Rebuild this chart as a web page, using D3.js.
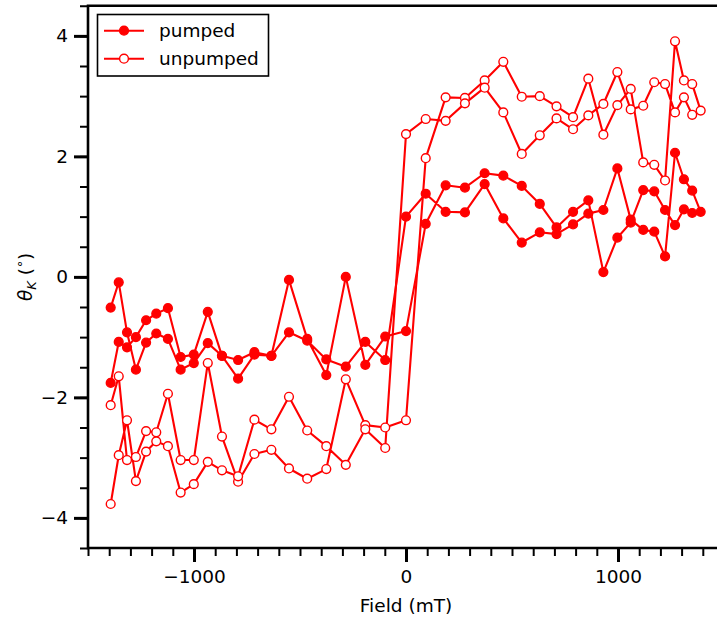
<!DOCTYPE html>
<html>
<head>
<meta charset="utf-8">
<script src="https://cdn.jsdelivr.net/npm/d3@7"></script>
<style>
  body { margin: 0; background: #fff; }
  svg { display: block; }
  .axis text { font-family: "DejaVu Sans", sans-serif; font-size: 18.5px; fill: #000; }
  .axis line { stroke: #000; }
  .axis path { display: none; }
</style>
</head>
<body>
<div class="demo"></div>
<script>
const w = 717, h = 618;
const padLeft = 88, padTop = 5.75, padBottom = 548;

// field steps of one sweep (mT)
const field = [-1393, -1355, -1316, -1274, -1226, -1178, -1123, -1063, -1001, -935,
  -868, -792, -715, -635, -552, -466, -376, -284, -192, -98,
  0, 93, 187, 278, 371, 459, 546, 631, 710, 788,
  860, 931, 997, 1060, 1119, 1171, 1222, 1269, 1311, 1350, 1390];

// Kerr rotation, sweep up (-H -> +H) and sweep down (+H -> -H), listed by field
const pumpedUp = [-1.76, -1.08, -1.17, -1.00, -0.72, -0.61, -0.52, -1.33, -1.29, -0.58,
  -1.31, -1.38, -1.25, -1.31, -0.05, -1.03, -1.63, 0.00, -1.46, -0.99,
  -0.90, 0.88, 1.52, 1.48, 1.72, 1.68, 1.51, 1.21, 0.82, 1.08,
  1.27, 0.08, 0.65, 0.90, 1.44, 1.42, 1.11, 0.86, 1.12, 1.06, 1.08];
const pumpedDown = [-0.51, -0.09, -0.92, -1.54, -1.09, -0.94, -1.03, -1.54, -1.43, -1.10,
  -1.31, -1.69, -1.29, -1.31, -0.92, -1.06, -1.37, -1.49, -1.08, -1.38,
  1.00, 1.38, 1.08, 1.07, 1.54, 0.97, 0.57, 0.74, 0.71, 0.87,
  1.05, 1.11, 1.80, 0.95, 0.78, 0.75, 0.34, 2.06, 1.62, 1.43, 1.08];
const unpumpedUp = [-2.13, -1.65, -3.04, -2.99, -2.56, -2.58, -1.94, -3.04, -3.04, -1.43,
  -2.65, -3.40, -2.94, -2.87, -3.18, -3.35, -3.19, -1.70, -2.46, -2.50,
  -2.38, 1.97, 2.98, 2.97, 3.26, 3.57, 2.99, 3.00, 2.83, 2.65,
  3.29, 2.36, 2.85, 3.12, 1.90, 1.86, 1.60, 3.91, 3.26, 3.20, 2.76];
const unpumpedDown = [-3.77, -2.96, -2.38, -3.39, -2.90, -2.73, -2.81, -3.58, -3.44, -3.07,
  -3.21, -3.31, -2.37, -2.53, -1.99, -2.55, -2.81, -3.12, -2.53, -2.84,
  2.37, 2.62, 2.59, 2.88, 3.14, 2.73, 2.04, 2.35, 2.63, 2.45,
  2.68, 2.87, 3.40, 2.78, 2.84, 3.23, 3.20, 2.73, 2.98, 2.69, 2.76];

const xMajor = [-1000, 0, 1000];
const yMajor = [-4, -2, 0, 2, 4];
const color = 'red';

// one loop: up the field, then back down
function loop(up, down) {
  let pts = field.map((f, i) => [f, up[i]]);
  for (let i = field.length - 2; i >= 0; i--) pts.push([field[i], down[i]]);
  return pts;
}
const series = [
  { name: 'pumped', pts: loop(pumpedUp, pumpedDown), fill: color },
  { name: 'unpumped', pts: loop(unpumpedUp, unpumpedDown), fill: 'white' }
];

let xScale = d3.scaleLinear().domain([-1500, 1500]).range([padLeft, padLeft + 3000 * 0.212]);
let yScale = d3.scaleLinear().domain([-4.5, 4.5]).range([padBottom, padTop]);

let svg = d3.select('.demo').append('svg').attr('width', w).attr('height', h);

let line = d3.line().x(d => xScale(d[0])).y(d => yScale(d[1]));

series.forEach(s => {
  svg.append('path').datum(s.pts)
     .attr('d', line)
     .attr('fill', 'none')
     .attr('stroke', color)
     .attr('stroke-width', 2.1)
     .attr('stroke-linejoin', 'round');
  svg.append('g').selectAll('circle').data(s.pts).enter()
     .append('circle')
     .attr('cx', d => xScale(d[0]))
     .attr('cy', d => yScale(d[1]))
     .attr('r', 4.4)
     .attr('fill', s.fill)
     .attr('stroke', color)
     .attr('stroke-width', 1.4);
});

// minor ticks
let xMinor = d3.axisBottom(xScale).tickValues(d3.range(-1500, 1450, 100)).tickSize(8).tickFormat('');
let yMinor = d3.axisLeft(yScale).tickValues(d3.range(-4.5, 4.6, 0.5)).tickSize(8).tickFormat('');
svg.append('g').attr('class', 'axis minor')
   .attr('transform', 'translate(0,' + padBottom + ')').call(xMinor);
svg.append('g').attr('class', 'axis minor')
   .attr('transform', 'translate(' + padLeft + ',0)').call(yMinor);
svg.selectAll('.minor line').attr('stroke-width', 2);

// major ticks
let xAxis = d3.axisBottom(xScale).tickValues(xMajor).tickSize(14).tickPadding(8).tickFormat(d3.format('d'));
let yAxis = d3.axisLeft(yScale).tickValues(yMajor).tickSize(14).tickPadding(6).tickFormat(d3.format('d'));
svg.append('g').attr('class', 'axis major')
   .attr('transform', 'translate(0,' + padBottom + ')').call(xAxis);
svg.append('g').attr('class', 'axis major')
   .attr('transform', 'translate(' + padLeft + ',0)').call(yAxis);
svg.selectAll('.major line').attr('stroke-width', 3);

// spines
svg.append('path')
   .attr('d', 'M' + w + ',' + padTop + 'H' + padLeft + 'V' + padBottom + 'H' + w)
   .attr('fill', 'none').attr('stroke', '#000').attr('stroke-width', 2.6);

// axis labels
svg.append('text')
   .attr('x', xScale(0)).attr('y', 612)
   .attr('text-anchor', 'middle')
   .style('font-family', 'DejaVu Sans').style('font-size', '18.5px')
   .text('Field (mT)');

let yl = svg.append('text')
   .attr('transform', 'translate(32,' + yScale(0) + ') rotate(-90)')
   .attr('text-anchor', 'middle')
   .style('font-family', 'DejaVu Sans').style('font-size', '18.5px');
yl.append('tspan').style('font-style', 'italic').text('θ');
yl.append('tspan').style('font-style', 'italic').style('font-size', '13px').attr('dy', 4).text('K');
yl.append('tspan').attr('dy', -4).text(' (');
yl.append('tspan').style('font-size', '13px').attr('dy', -8).text('∘');
yl.append('tspan').attr('dy', 8).text(')');

// legend
let lg = svg.append('g');
lg.append('rect').attr('x', 97.5).attr('y', 14.5).attr('width', 171).attr('height', 61.5)
  .attr('fill', 'white').attr('stroke', '#000').attr('stroke-width', 1.6);
series.forEach((s, i) => {
  let y = 30.7 + i * 28;
  lg.append('line').attr('x1', 104).attr('x2', 144).attr('y1', y).attr('y2', y)
    .attr('stroke', color).attr('stroke-width', 2.1);
  lg.append('circle').attr('cx', 124).attr('cy', y).attr('r', 4.4)
    .attr('fill', s.fill).attr('stroke', color).attr('stroke-width', 1.4);
  lg.append('text').attr('x', 159).attr('y', y + 6.5)
    .style('font-family', 'DejaVu Sans').style('font-size', '18.5px')
    .text(s.name);
});
</script>
</body>
</html>
